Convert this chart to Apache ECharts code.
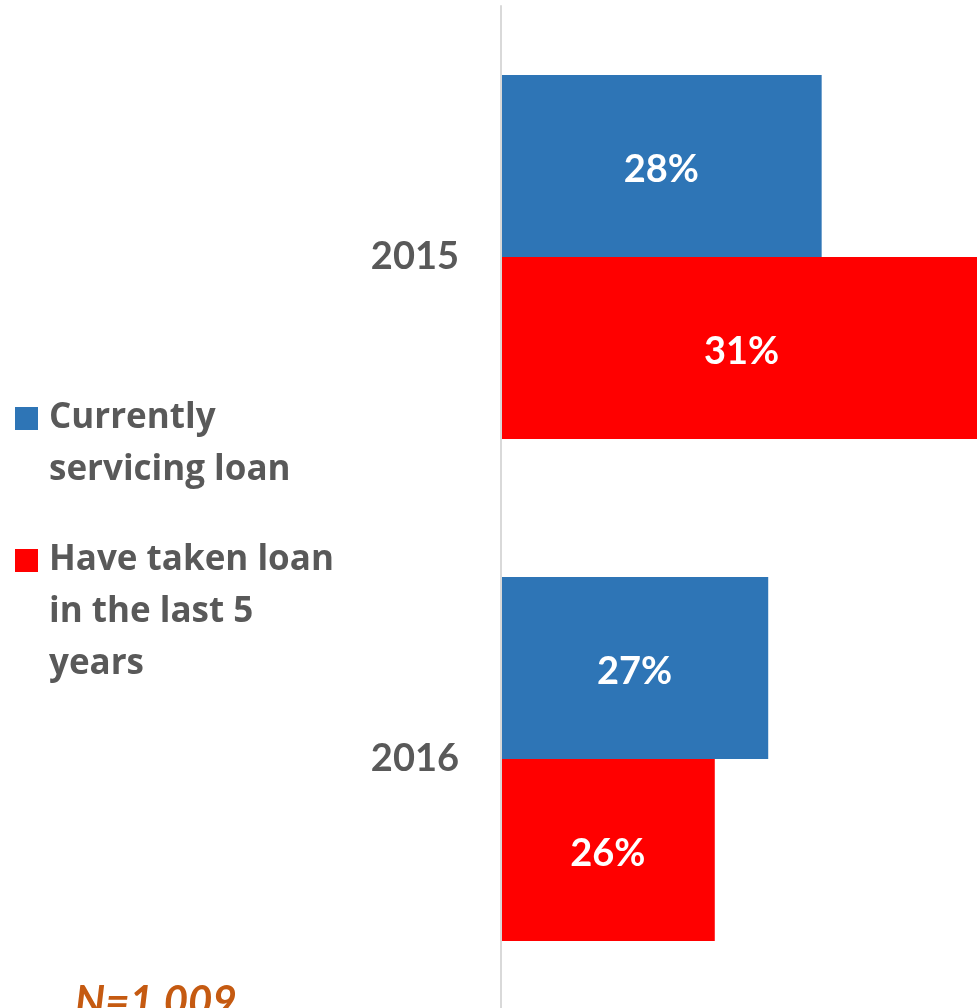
<!DOCTYPE html>
<html>
<head>
<meta charset="utf-8">
<script src="https://cdn.jsdelivr.net/npm/echarts@6/dist/echarts.min.js"></script>
<style>
  html, body { margin: 0; padding: 0; background: #ffffff; }
  #chart { width: 977px; height: 1008px; }
</style>
</head>
<body>
<div id="chart"></div>
<script>
// Survey years (top to bottom)
const years = ['2015', '2016'];

// Series names and values (percent of respondents)
const seriesNames = ['Currently servicing loan', 'Have taken loan in the last 5 years'];
const currentlyServicing = [28, 27];
const takenLastFiveYears = [31, 26];

// Legend lines as wrapped in the key
const legendLines = [
  ['Currently', 'servicing loan'],
  ['Have taken loan', 'in the last 5', 'years']
];

const sampleNote = 'N=1,009';

const colors = ['#2E75B6', '#FF0000'];
const textGray = '#595959';
const fontFamily = 'Lato, "Open Sans", sans-serif';
const legendFont = '"Open Sans", Lato, sans-serif';

const chart = echarts.init(document.getElementById('chart'));

const barLabel = {
  show: true,
  position: 'inside',
  offset: [0, 4],
  color: '#ffffff',
  fontFamily: fontFamily,
  fontWeight: 'bold',
  fontSize: 38,
  formatter: p => p.value + '%'
};

// Legend entries: square marker on the first line, later lines indented
const legendRich = {
  t: { fontFamily: legendFont, fontWeight: 'bold', fontSize: 35, color: textGray, lineHeight: 52 },
  gap: { width: 11, lineHeight: 52 },
  ind: { width: 34, lineHeight: 52 }
};
colors.forEach((c, i) => {
  legendRich['sq' + i] = { width: 23, height: 23, backgroundColor: c, lineHeight: 52 };
});

function legendText(name) {
  const i = seriesNames.indexOf(name);
  const lines = legendLines[i];
  let s = '{sq' + i + '|}{gap|}{t|' + lines[0] + '}';
  for (let k = 1; k < lines.length; k++) {
    s += '\n{ind|}{t|' + lines[k] + '}';
  }
  return s;
}

chart.setOption({
  animation: false,
  backgroundColor: '#ffffff',
  // plot area runs slightly past the right edge, so the longest bar is cut off
  grid: { left: 501, width: 481, top: 6, bottom: -2, containLabel: false, outerBoundsMode: 'none' },
  legend: {
    orient: 'vertical',
    left: 9,
    top: 401,
    padding: 0,
    itemGap: 55,
    icon: 'none',
    itemWidth: 1,
    itemHeight: 23,
    selectedMode: false,
    data: seriesNames,
    formatter: legendText,
    textStyle: { rich: legendRich }
  },
  xAxis: {
    type: 'value',
    min: 22,
    max: 31,
    show: false
  },
  yAxis: {
    type: 'category',
    data: years,
    inverse: true,
    z: 5,
    axisLine: { show: true, lineStyle: { color: '#d9d9d9', width: 2 } },
    axisTick: { show: false },
    axisLabel: {
      margin: 42,
      color: textGray,
      fontFamily: fontFamily,
      fontWeight: 'bold',
      fontSize: 38
    },
    splitLine: { show: false }
  },
  series: [
    {
      name: seriesNames[0],
      type: 'bar',
      data: currentlyServicing,
      barWidth: 182,
      barGap: '0%',
      itemStyle: { color: colors[0] },
      label: barLabel
    },
    {
      name: seriesNames[1],
      type: 'bar',
      data: takenLastFiveYears,
      barWidth: 182,
      barGap: '0%',
      itemStyle: { color: colors[1] },
      label: barLabel
    }
  ],
  graphic: [
    {
      type: 'text',
      left: 75,
      top: 981,
      style: {
        text: sampleNote,
        fill: '#C55A11',
        fontFamily: fontFamily,
        fontWeight: 'bold',
        fontStyle: 'italic',
        fontSize: 42
      }
    }
  ]
});
</script>
</body>
</html>
